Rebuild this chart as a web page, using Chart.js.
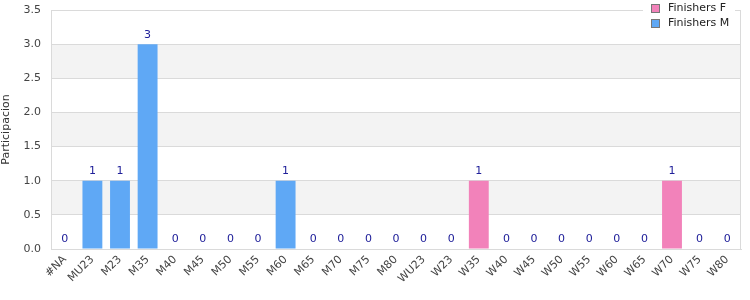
<!DOCTYPE html>
<html>
<head>
<meta charset="utf-8">
<script src="https://cdn.jsdelivr.net/npm/chart.js@4/dist/chart.umd.min.js"></script>
<style>
  html, body { margin: 0; padding: 0; background: #fff; }
  #wrap { width: 750px; height: 300px; }
</style>
</head>
<body>
<div id="wrap"><canvas id="myChart" width="750" height="300"></canvas></div>
<script>
const categories = ['#NA', 'MU23', 'M23', 'M35', 'M40', 'M45', 'M50', 'M55', 'M60', 'M65', 'M70', 'M75', 'M80',
  'WU23', 'W23', 'W35', 'W40', 'W45', 'W50', 'W55', 'W60', 'W65', 'W70', 'W75', 'W80'];
const finishersF = [0, 0, 0, 0, 0, 0, 0, 0, 0, 0, 0, 0, 0, 0, 0, 1, 0, 0, 0, 0, 0, 0, 1, 0, 0];
const finishersM = [0, 1, 1, 3, 0, 0, 0, 0, 1, 0, 0, 0, 0, 0, 0, 0, 0, 0, 0, 0, 0, 0, 0, 0, 0];
const yTicks = [0, 0.5, 1, 1.5, 2, 2.5, 3, 3.5];

const FONT = 'DejaVu Sans';
const colF = '#f282ba';
const colM = '#5fa8f5';

// alternating gray bands + plot frame
const bandsPlugin = {
    id: 'bands',
    beforeDraw(chart) {
        const { ctx, chartArea: { left, top, right, bottom }, scales: { y } } = chart;
        ctx.save();
        ctx.fillStyle = '#f3f3f3';
        for (let i = 0; i < yTicks.length - 1; i++) {
            if (i % 2 === 1) {
                const y1 = y.getPixelForValue(yTicks[i]);
                const y2 = y.getPixelForValue(yTicks[i + 1]);
                ctx.fillRect(left, y2, right - left, y1 - y2);
            }
        }
        ctx.restore();
    },
    afterDatasetsDraw(chart) {
        const { ctx, chartArea: { left, top, right, bottom } } = chart;
        ctx.save();
        ctx.strokeStyle = '#dadada';
        ctx.lineWidth = 1;
        ctx.beginPath();
        ctx.moveTo(left + 0.5, bottom);
        ctx.lineTo(left + 0.5, top + 0.5);
        ctx.lineTo(right - 0.5, top + 0.5);
        ctx.lineTo(right - 0.5, bottom);
        ctx.stroke();
        ctx.restore();
    }
};

// totals above each stack
const labelPlugin = {
    id: 'totals',
    afterDatasetsDraw(chart) {
        const { ctx, scales: { x, y } } = chart;
        ctx.save();
        ctx.font = '11px "' + FONT + '"';
        ctx.fillStyle = '#20209a';
        ctx.textAlign = 'center';
        ctx.textBaseline = 'bottom';
        categories.forEach((c, i) => {
            const total = finishersF[i] + finishersM[i];
            const px = x.getPixelForValue(i);
            const py = y.getPixelForValue(total);
            ctx.fillText(String(total), px, py - 4);
        });
        ctx.restore();
    }
};

// vertical legend at top right
const legendPlugin = {
    id: 'sideLegend',
    afterDraw(chart) {
        const { ctx } = chart;
        const items = [['Finishers F', colF], ['Finishers M', colM]];
        ctx.save();
        ctx.fillStyle = '#fff';
        ctx.fillRect(643, 0, 92, 30);
        ctx.font = '11px "' + FONT + '"';
        ctx.textBaseline = 'middle';
        ctx.textAlign = 'left';
        items.forEach((it, i) => {
            const yy = 8 + i * 15;
            ctx.fillStyle = it[1];
            ctx.fillRect(651, yy - 4, 9, 9);
            ctx.strokeStyle = '#777';
            ctx.lineWidth = 1;
            ctx.strokeRect(651.5, yy - 3.5, 8, 8);
            ctx.fillStyle = '#222';
            ctx.fillText(it[0], 668, yy);
        });
        ctx.restore();
    }
};

new Chart(document.getElementById('myChart'), {
    type: 'bar',
    data: {
        labels: categories,
        datasets: [
            { label: 'Finishers F', data: finishersF, backgroundColor: colF },
            { label: 'Finishers M', data: finishersM, backgroundColor: colM }
        ]
    },
    plugins: [bandsPlugin, labelPlugin, legendPlugin],
    options: {
        responsive: false,
        animation: false,
        events: [],
        layout: { padding: { top: 10, right: 9, left: 0, bottom: 0 } },
        datasets: { bar: { barPercentage: 0.9, categoryPercentage: 0.8 } },
        plugins: { legend: { display: false }, tooltip: { enabled: false } },
        scales: {
            x: {
                stacked: true,
                grid: { display: false, drawTicks: false },
                border: { display: true, color: '#dadada' },
                ticks: {
                    color: '#444',
                    font: { family: FONT, size: 11 },
                    minRotation: 45, maxRotation: 45,
                    padding: 4,
                    autoSkip: false
                },
                afterFit(scale) {
                    scale.height = 51;
                    scale.paddingLeft = 0; scale.paddingRight = 0;
                }
            },
            y: {
                stacked: true,
                min: 0, max: 3.5,
                afterBuildTicks(scale) { scale.ticks = yTicks.map(v => ({ value: v })); },
                grid: { color: '#dadada', drawTicks: false },
                border: { display: false },
                ticks: {
                    color: '#444',
                    font: { family: FONT, size: 11 },
                    padding: 10,
                    callback: v => v.toFixed(1)
                },
                title: {
                    display: true,
                    text: 'Participacion',
                    color: '#333',
                    font: { family: FONT, size: 11 },
                    padding: { top: 0, bottom: 0 }
                },
                afterFit(scale) {
                    scale.width = 51;
                    scale.paddingTop = 0; scale.paddingBottom = 0;
                }
            }
        }
    }
});
</script>
</body>
</html>
